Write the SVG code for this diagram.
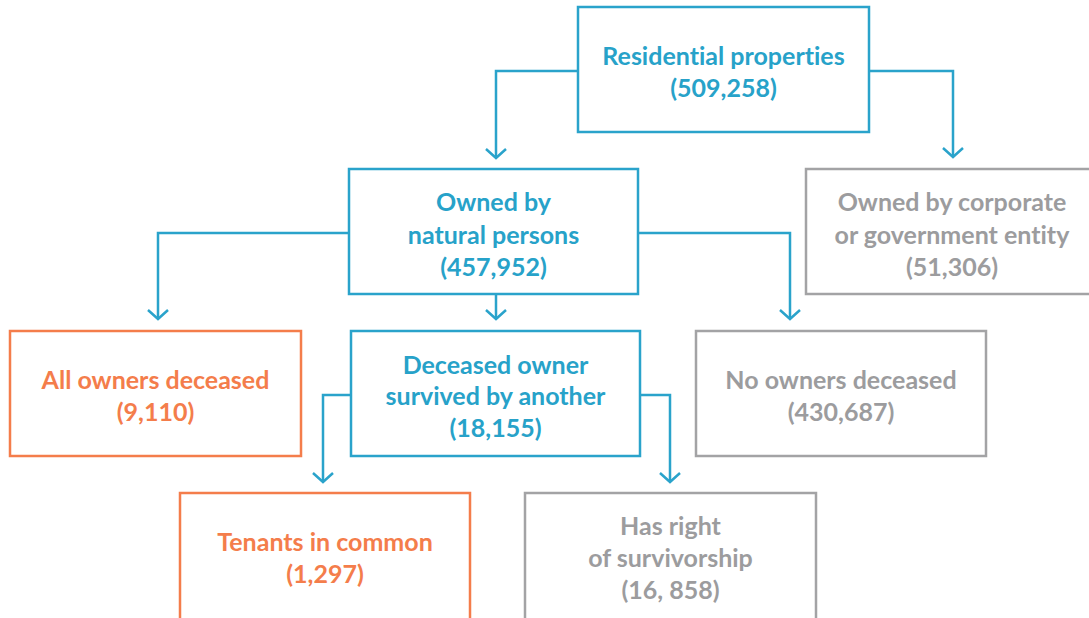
<svg xmlns="http://www.w3.org/2000/svg" width="1089" height="618" viewBox="0 0 1089 618">
<style>
  .box{fill:#fff;stroke-width:2.5}
  .blue{stroke:#2aa3cb}
  .orange{stroke:#f47d4b}
  .gray{stroke:#a3a3a5}
  text{font-family:Lato,"Liberation Sans",sans-serif;font-weight:bold;font-size:25px;text-anchor:middle;font-variant-ligatures:none}
  .tb{fill:#27a2c9}
  .to{fill:#f47d4b}
  .tg{fill:#9c9c9e}
  .conn{fill:none;stroke:#2aa3cb;stroke-width:2.5;marker-end:url(#arr)}
</style>
<defs>
  <marker id="arr" markerUnits="userSpaceOnUse" markerWidth="24" markerHeight="24" viewBox="-12 -12 24 24" refX="0" refY="0" orient="auto">
    <path d="M-9,-10 L0,0 L-9,10" fill="none" stroke="#2aa3cb" stroke-width="2.5"/>
  </marker>
</defs>
<g id="connectors">
  <path class="conn" d="M578,71 H496 V158"/>
  <path class="conn" d="M869,71 H953 V157"/>
  <path class="conn" d="M349,233 H158 V319"/>
  <path class="conn" d="M638,233 H790 V319"/>
  <path class="conn" d="M496,294 V319"/>
  <path class="conn" d="M351,395 H323 V482"/>
  <path class="conn" d="M640,395 H670 V482"/>
</g>
<g id="residential">
  <rect class="box blue" x="578" y="7" width="291" height="125"/>
  <text class="tb" x="723.5" y="65">Residential properties</text>
  <text class="tb" x="723.5" y="97">(509,258)</text>
</g>
<g id="natural">
  <rect class="box blue" x="349" y="169" width="289" height="125"/>
  <text class="tb" x="493.5" y="211">Owned by</text>
  <text class="tb" x="493.5" y="244">natural persons</text>
  <text class="tb" x="493.5" y="276">(457,952)</text>
</g>
<g id="corporate">
  <rect class="box gray" x="806" y="169" width="300" height="125"/>
  <text class="tg" x="952" y="211">Owned by corporate</text>
  <text class="tg" x="952" y="244">or government entity</text>
  <text class="tg" x="952" y="276">(51,306)</text>
</g>
<g id="all-deceased">
  <rect class="box orange" x="10" y="331" width="291" height="125"/>
  <text class="to" x="155.5" y="389">All owners deceased</text>
  <text class="to" x="155.5" y="421">(9,110)</text>
</g>
<g id="survived">
  <rect class="box blue" x="351" y="331" width="289" height="125"/>
  <text class="tb" x="495.5" y="374">Deceased owner</text>
  <text class="tb" x="495.5" y="405">survived by another</text>
  <text class="tb" x="495.5" y="437">(18,155)</text>
</g>
<g id="none-deceased">
  <rect class="box gray" x="696" y="331" width="290" height="125"/>
  <text class="tg" x="841" y="389">No owners deceased</text>
  <text class="tg" x="841" y="421">(430,687)</text>
</g>
<g id="tenants">
  <rect class="box orange" x="180" y="493" width="290" height="140"/>
  <text class="to" x="325" y="551">Tenants in common</text>
  <text class="to" x="325" y="583">(1,297)</text>
</g>
<g id="survivorship">
  <rect class="box gray" x="525" y="493" width="291" height="140"/>
  <text class="tg" x="670.5" y="535">Has right</text>
  <text class="tg" x="670.5" y="567">of survivorship</text>
  <text class="tg" x="670.5" y="599">(16, 858)</text>
</g>
</svg>
